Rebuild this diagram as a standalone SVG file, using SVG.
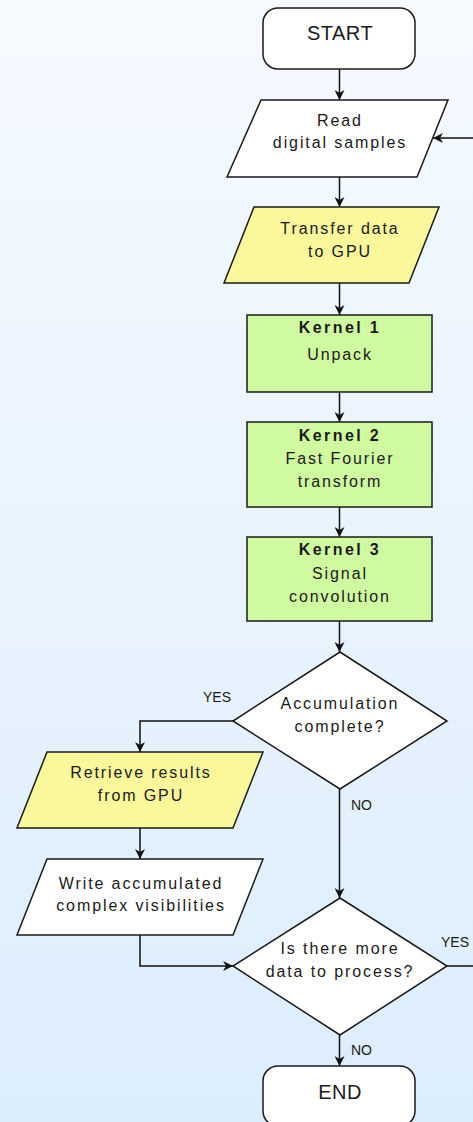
<svg xmlns="http://www.w3.org/2000/svg" width="473" height="1122" viewBox="0 0 473 1122">
<defs>
<linearGradient id="bg" x1="0" y1="0" x2="0" y2="1">
<stop offset="0" stop-color="#f5faff"/>
<stop offset="1" stop-color="#dcedfc"/>
</linearGradient>
<marker id="arr" viewBox="0 0 10 10" refX="10" refY="5" markerWidth="10" markerHeight="10" markerUnits="userSpaceOnUse" orient="auto">
<path d="M0,0 L10,5 L0,10 L3,5 z" fill="#111"/>
</marker>
<style>
.shape{stroke:#1a1a1a;stroke-width:1.5}
.white{fill:#ffffff}
.yellow{fill:#fbf89c}
.green{fill:#cffa9f}
.t{font-family:"Liberation Sans",Arial,sans-serif;font-size:16px;letter-spacing:1.9px;fill:#1a1a1a;text-anchor:middle}
.b{font-weight:bold;letter-spacing:2.4px}
.big{font-size:20px;letter-spacing:0.5px}
.lbl{font-family:"Liberation Sans",Arial,sans-serif;font-size:14px;fill:#1a1a1a}
.c{fill:none;stroke:#111;stroke-width:1.5}
</style>
</defs>
<rect x="0" y="0" width="473" height="1122" fill="url(#bg)"/>

<g id="connectors">
<path class="c" d="M339.5,69 V100" marker-end="url(#arr)"/>
<path class="c" d="M339.5,177 V207" marker-end="url(#arr)"/>
<path class="c" d="M339.5,283 V315" marker-end="url(#arr)"/>
<path class="c" d="M339.5,392 V422" marker-end="url(#arr)"/>
<path class="c" d="M339.5,507 V537" marker-end="url(#arr)"/>
<path class="c" d="M339.5,621 V652" marker-end="url(#arr)"/>
<path class="c" d="M233,721 H140 V752" marker-end="url(#arr)"/>
<path class="c" d="M339.5,789 V898" marker-end="url(#arr)"/>
<path class="c" d="M140,828 V859" marker-end="url(#arr)"/>
<path class="c" d="M140,935 V966 H233" marker-end="url(#arr)"/>
<path class="c" d="M447,966 H490 V138 H433" marker-end="url(#arr)"/>
<path class="c" d="M339.5,1035 V1066" marker-end="url(#arr)"/>
<text class="lbl" x="217" y="702" text-anchor="middle">YES</text>
<text class="lbl" x="351" y="810">NO</text>
<text class="lbl" x="441" y="947">YES</text>
<text class="lbl" x="351" y="1055">NO</text>
</g>

<g id="start">
<rect class="shape white" x="263" y="8" width="152" height="61" rx="15"/>
<text class="t big" x="340" y="40">START</text>
</g>

<g id="read">
<polygon class="shape white" points="261,100 448,100 417,177 227,177"/>
<text class="t" x="340" y="126">Read</text>
<text class="t" x="340" y="148">digital samples</text>
</g>

<g id="transfer">
<polygon class="shape yellow" points="254,207 439,207 409,283 224,283"/>
<text class="t" x="340" y="234">Transfer data</text>
<text class="t" x="340" y="257">to GPU</text>
</g>

<g id="kernel1">
<rect class="shape green" x="247" y="315" width="185" height="77"/>
<text class="t b" x="340" y="333">Kernel 1</text>
<text class="t" x="340" y="360">Unpack</text>
</g>

<g id="kernel2">
<rect class="shape green" x="247" y="422" width="185" height="85"/>
<text class="t b" x="340" y="441">Kernel 2</text>
<text class="t" x="340" y="464">Fast Fourier</text>
<text class="t" x="340" y="487">transform</text>
</g>

<g id="kernel3">
<rect class="shape green" x="247" y="537" width="185" height="84"/>
<text class="t b" x="340" y="555">Kernel 3</text>
<text class="t" x="340" y="579">Signal</text>
<text class="t" x="340" y="602">convolution</text>
</g>

<g id="accumulation">
<polygon class="shape white" points="340,652 447,721 340,789 233,721"/>
<text class="t" x="340" y="709">Accumulation</text>
<text class="t" x="340" y="732">complete?</text>
</g>

<g id="retrieve">
<polygon class="shape yellow" points="47,752 263,752 233,828 17,828"/>
<text class="t" x="141" y="778">Retrieve results</text>
<text class="t" x="141" y="801">from GPU</text>
</g>

<g id="write">
<polygon class="shape white" points="47,859 263,859 233,935 17,935"/>
<text class="t" x="141" y="889">Write accumulated</text>
<text class="t" x="141" y="911">complex visibilities</text>
</g>

<g id="more">
<polygon class="shape white" points="340,898 447,966 340,1035 233,966"/>
<text class="t" x="340" y="954">Is there more</text>
<text class="t" x="340" y="977">data to process?</text>
</g>

<g id="end">
<rect class="shape white" x="263" y="1066" width="152" height="60" rx="15"/>
<text class="t big" x="340" y="1099">END</text>
</g>
</svg>
